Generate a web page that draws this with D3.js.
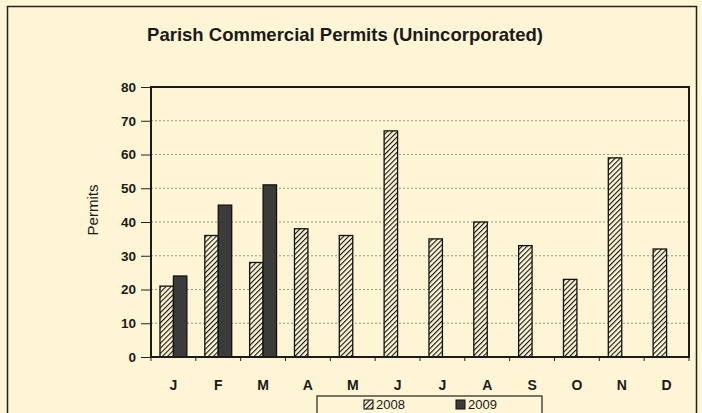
<!DOCTYPE html>
<html>
<head>
<meta charset="utf-8">
<script src="https://cdn.jsdelivr.net/npm/d3@7"></script>
<style>
  body { margin: 0; background: #fdf5d3; }
  svg { display: block; }
</style>
</head>
<body>
<div id="chart"></div>
<script>
const months = ["J", "F", "M", "A", "M", "J", "J", "A", "S", "O", "N", "D"];
const permits2008 = [21, 36, 28, 38, 36, 67, 35, 40, 33, 23, 59, 32];
const permits2009 = [24, 45, 51, null, null, null, null, null, null, null, null, null];
const seriesNames = ["2008", "2009"];
const yTicks = [0, 10, 20, 30, 40, 50, 60, 70, 80];

const W = 702, H = 413;
const margin = { top: 87, right: 13, bottom: 56, left: 151 };
const width = W - margin.left - margin.right;
const height = H - margin.top - margin.bottom;
const font = "Liberation Sans, Arial, sans-serif";

const svg = d3.select("#chart").append("svg")
  .attr("width", W)
  .attr("height", H);

// hatch pattern for 2008
const defs = svg.append("defs");
const pat = defs.append("pattern")
  .attr("id", "hatch")
  .attr("patternUnits", "userSpaceOnUse")
  .attr("width", 3.6)
  .attr("height", 3.6)
  .attr("patternTransform", "rotate(45)");
pat.append("rect").attr("width", 3.6).attr("height", 3.6).attr("fill", "#fdf5d3");
pat.append("line")
  .attr("x1", 0).attr("y1", 0).attr("x2", 0).attr("y2", 3.6)
  .attr("stroke", "#111").attr("stroke-width", 2.2);

// outer frame
svg.append("rect")
  .attr("x", 7.5).attr("y", 6.5)
  .attr("width", 689).attr("height", 420)
  .attr("fill", "none")
  .attr("stroke", "#222")
  .attr("stroke-width", 1.5);

// title
svg.append("text")
  .attr("x", 345)
  .attr("y", 41)
  .attr("text-anchor", "middle")
  .attr("font-family", font)
  .attr("font-size", "18.5px")
  .attr("font-weight", "bold")
  .attr("fill", "#1a1a1a")
  .text("Parish Commercial Permits (Unincorporated)");

const g = svg.append("g").attr("transform", `translate(${margin.left},${margin.top})`);

const x = d3.scaleBand()
  .domain(d3.range(months.length))
  .range([0, width])
  .paddingInner(0.4)
  .paddingOuter(0.2);

const xs = d3.scaleBand()
  .domain(seriesNames)
  .range([0, x.bandwidth()]);

const y = d3.scaleLinear().domain([0, 80]).range([height, 0]);

// gridlines
g.selectAll(".grid")
  .data(yTicks.slice(1, -1))
  .join("line")
  .attr("x1", 0).attr("x2", width)
  .attr("y1", d => y(d)).attr("y2", d => y(d))
  .attr("stroke", "#9a9584")
  .attr("stroke-width", 1)
  .attr("stroke-dasharray", "2,2");

// y axis
const yAxis = d3.axisLeft(y).tickValues(yTicks).tickSize(10).tickPadding(5);
g.append("g")
  .call(yAxis)
  .call(a => a.select(".domain").remove())
  .call(a => a.selectAll(".tick line").attr("stroke", "#222").attr("stroke-width", 1))
  .selectAll(".tick text")
  .attr("font-family", font)
  .attr("font-size", "13.5px")
  .attr("font-weight", "bold")
  .attr("fill", "#1a1a1a");

// x axis ticks at band boundaries
g.selectAll(".xtick")
  .data(d3.range(months.length + 1))
  .join("line")
  .attr("x1", i => i * x.step()).attr("x2", i => i * x.step())
  .attr("y1", height).attr("y2", height + 4)
  .attr("stroke", "#222");

// month labels
g.selectAll(".mlabel")
  .data(months)
  .join("text")
  .attr("x", (d, i) => x(i) + x.bandwidth() / 2)
  .attr("y", height + 33)
  .attr("text-anchor", "middle")
  .attr("font-family", font)
  .attr("font-size", "14px")
  .attr("font-weight", "bold")
  .attr("fill", "#1a1a1a")
  .text(d => d);

// bars 2008
g.selectAll(".b2008")
  .data(permits2008)
  .join("rect")
  .attr("x", (d, i) => x(i) + xs("2008"))
  .attr("y", d => y(d))
  .attr("width", xs.bandwidth())
  .attr("height", d => height - y(d))
  .attr("fill", "url(#hatch)")
  .attr("stroke", "#111")
  .attr("stroke-width", 1.3);

// bars 2009
g.selectAll(".b2009")
  .data(permits2009.map((v, i) => ({ v, i })).filter(d => d.v != null))
  .join("rect")
  .attr("x", d => x(d.i) + xs("2009"))
  .attr("y", d => y(d.v))
  .attr("width", xs.bandwidth())
  .attr("height", d => height - y(d.v))
  .attr("fill", "#3b3b3b")
  .attr("stroke", "#111")
  .attr("stroke-width", 1.3);

// plot frame
g.append("rect")
  .attr("width", width).attr("height", height)
  .attr("fill", "none")
  .attr("stroke", "#1a1a1a")
  .attr("stroke-width", 2);

// y label
svg.append("text")
  .attr("transform", `translate(98,${margin.top + height / 2 - 12}) rotate(-90)`)
  .attr("text-anchor", "middle")
  .attr("font-family", font)
  .attr("font-size", "15px")
  .attr("fill", "#1a1a1a")
  .text("Permits");

// legend
const legend = svg.append("g");
legend.append("rect")
  .attr("x", 317).attr("y", 396)
  .attr("width", 225).attr("height", 30)
  .attr("fill", "#fdf5d3")
  .attr("stroke", "#222")
  .attr("stroke-width", 1.2);

const legItems = legend.selectAll(".li")
  .data(seriesNames)
  .join("g")
  .attr("transform", (d, i) => `translate(${364 + i * 92},400)`);
legItems.append("rect")
  .attr("width", 9).attr("height", 9)
  .attr("fill", d => d === "2008" ? "url(#hatch)" : "#3b3b3b")
  .attr("stroke", "#111");
legItems.append("text")
  .attr("x", 12).attr("y", 9)
  .attr("font-family", font)
  .attr("font-size", "13px")
  .attr("fill", "#1a1a1a")
  .text(d => d);
</script>
</body>
</html>
